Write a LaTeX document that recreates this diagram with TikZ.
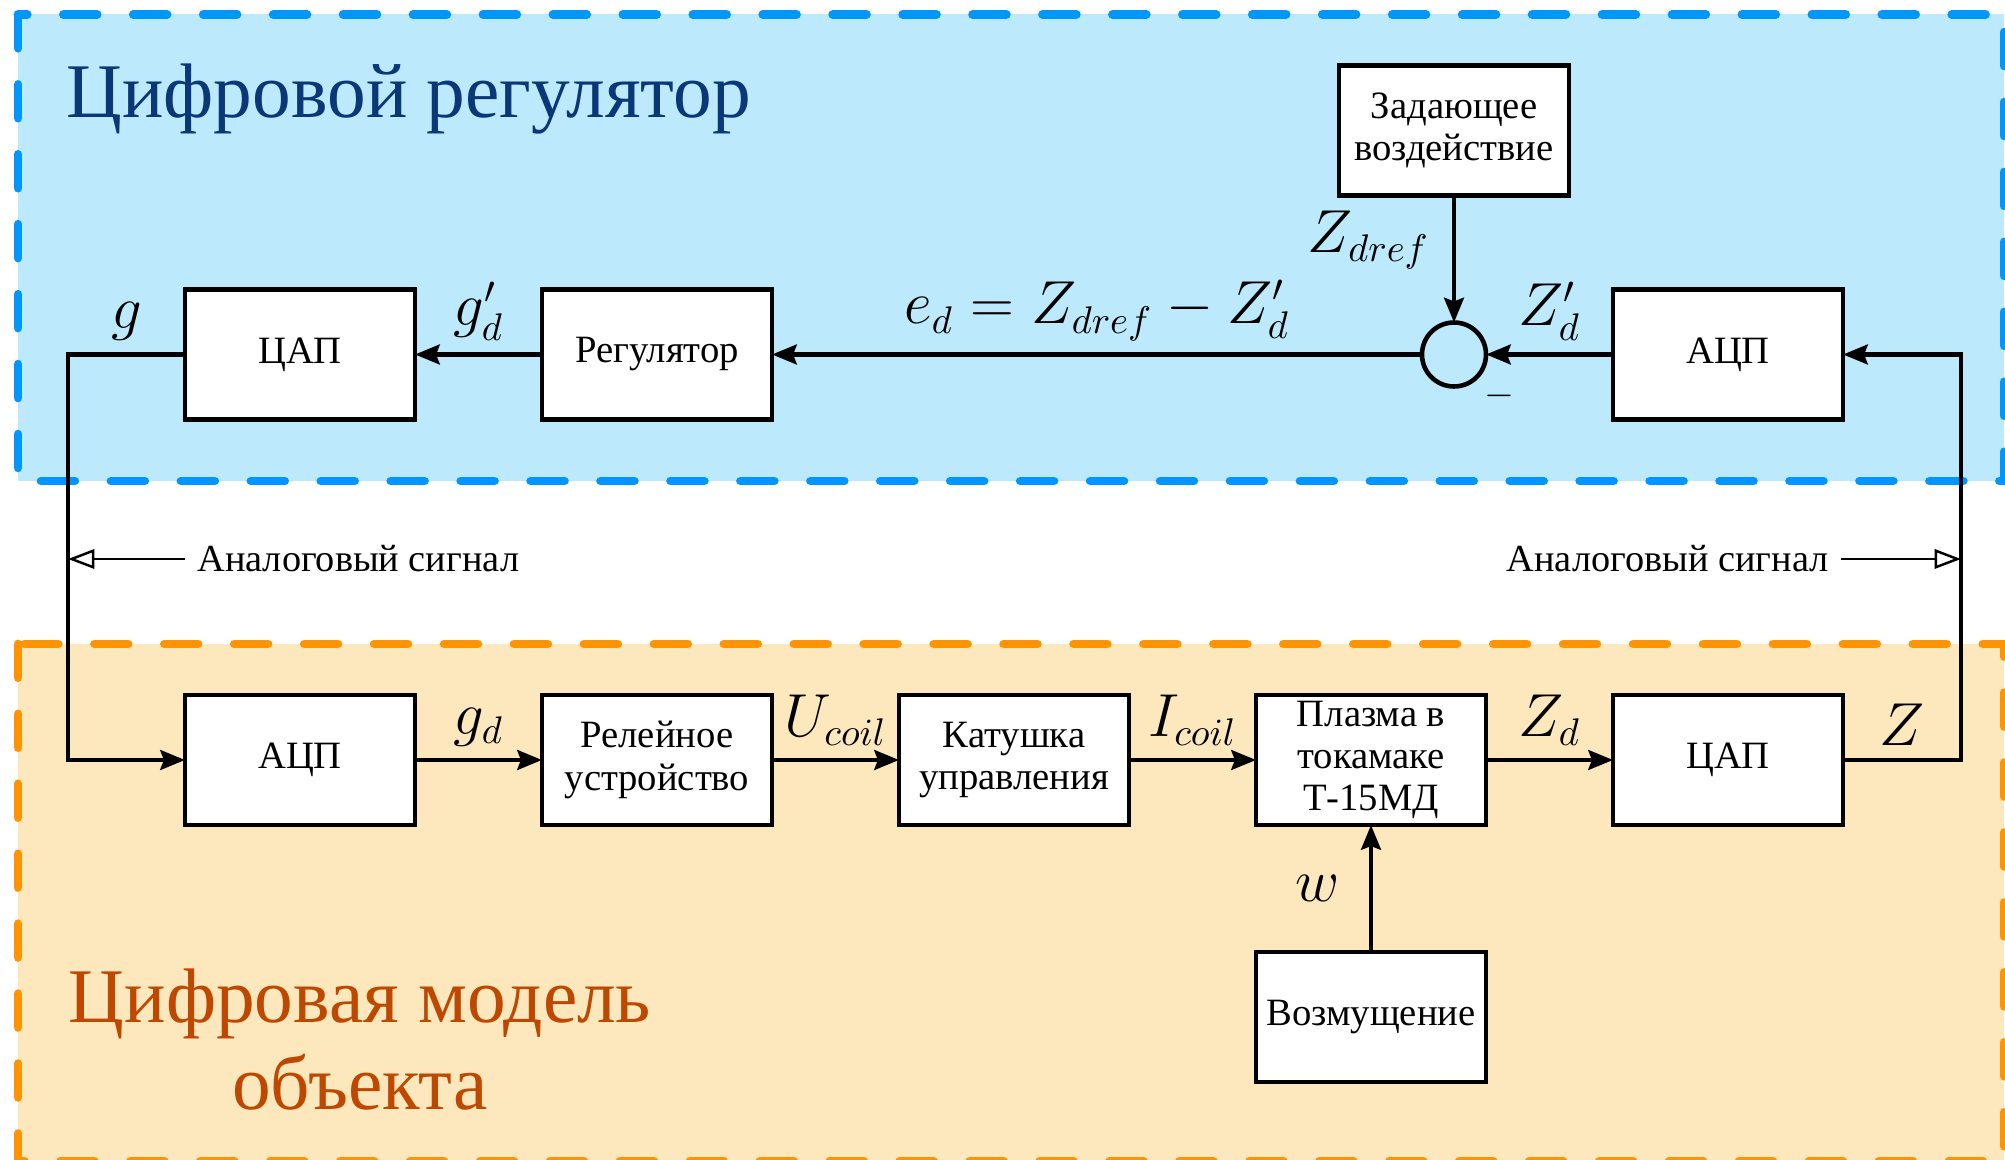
\documentclass[tikz,border=0pt]{standalone}
\usepackage{amsmath,amssymb}
\usepackage[no-math]{fontspec}
\setmainfont{Liberation Serif}
\usetikzlibrary{arrows.meta,calc,positioning}

\definecolor{ctrlFill}{RGB}{188,234,252}
\definecolor{ctrlLine}{RGB}{0,150,255}
\definecolor{ctrlText}{RGB}{10,55,120}
\definecolor{plantFill}{RGB}{253,232,190}
\definecolor{plantLine}{RGB}{255,148,0}
\definecolor{plantText}{RGB}{190,72,0}

\begin{document}
\begin{tikzpicture}[>=Stealth, node distance=1.27cm]
  % --- Styles ---
    \tikzset{
      blk/.style   = {rectangle,draw,fill=white,line width=1.3pt,minimum width=2.30cm,
                      minimum height=1.30cm,inner sep=1pt,outer sep=0pt,align=center,
                      font=\fontsize{11}{12}\selectfont},
      sum/.style   = {circle,draw,line width=1.3pt,minimum size=6.4mm,inner sep=0pt,outer sep=0pt},
      conn/.style  = {-{Stealth[length=7pt,width=5.6pt,inset=1pt]},line width=1.3pt},
      sig/.style   = {-{Triangle[open,length=7.5pt,width=5.5pt]},line width=0.7pt},
      lab/.style   = {font=\fontsize{16}{19}\selectfont},
      note/.style  = {font=\fontsize{10.9}{12}\selectfont},
      zone/.style  = {line width=2.5pt,dash pattern=on 9.6pt off 10.3pt,line cap=round},
      ttl/.style   = {inner sep=0pt,font=\fontsize{22}{25}\selectfont}
    }

    \useasboundingbox (0,0) rectangle (20.05,11.6);
    \clip (0,0) rectangle (20.05,11.6);

    % --- Two zones: digital controller (top) and plant model (bottom) ---
    \fill[ctrlFill] (0.18,11.455) rectangle (20.04,6.79);
    \draw[zone,ctrlLine] (0.18,11.455) rectangle (20.04,6.79);
    \fill[plantFill] (0.18,5.16) rectangle (20.04,-0.01);
    \draw[zone,plantLine] (0.18,5.16) rectangle (20.04,-0.01);

    \node[ttl,text=ctrlText,anchor=base west] (ttlCtrl) at (0.66,10.42) {Цифровой регулятор};
    \node[ttl,text=plantText,align=center,anchor=base] (ttlPlant) at (3.60,0.50)
      {Цифровая модель\\объекта};

    % --- Plant chain ---
    \node[blk] (adcB) at (3.00,4.00) {АЦП};
    \node[blk,right=of adcB] (relay) {Релейное\\устройство};
    \node[blk,right=of relay] (coil) {Катушка\\управления};
    \node[blk,right=of coil] (plasma) {Плазма в\\токамаке\\Т-15МД};
    \node[blk,right=of plasma] (dacB) {ЦАП};
    \node[blk,below=of plasma] (dist) {Возмущение};

    % --- Controller chain ---
    \node[blk,above=2.755cm of adcB] (dacT) {ЦАП};
    \node[blk,right=of dacT] (ctrl) {Регулятор};
    \node[blk,above=2.755cm of dacB] (adcT) {АЦП};
    \node[sum,left=of adcT] (sum) {};
    \node[blk,above=of sum] (ref) {Задающее\\воздействие};
    \node[inner sep=0pt,anchor=north west,font=\fontsize{11}{13}\selectfont] (minus)
      at ([xshift=2pt,yshift=-1.5pt]sum.south east) {$-$};

    % --- Signals inside the plant ---
    \draw[conn] (adcB) -- node[lab,above] {$g_d$} (relay);
    \draw[conn] (relay) -- node[lab,above] {$U_{coil}$} (coil);
    \draw[conn] (coil) -- node[lab,above] {$I_{coil}$} (plasma);
    \draw[conn] (plasma) -- node[lab,above] {$Z_d$} (dacB);
    \draw[conn] (dist) -- node[lab,left=5pt] {$w$} (plasma);

    % --- Signals inside the controller ---
    \draw[conn] (ref) -- node[lab,left=3pt,pos=0.35] {$Z_{dref}$} (sum);
    \draw[conn] (adcT) -- node[lab,above] {$Z'_d$} (sum);
    \draw[conn] (sum) -- node[lab,above] {$e_d = Z_{dref} - Z'_d$} (ctrl);
    \draw[conn] (ctrl) -- node[lab,above] {$g'_d$} (dacT);

    % --- Analog links between the zones ---
    \coordinate (tapL) at ($(dacT.west)+(-1.17,0)$);
    \coordinate (tapR) at ($(dacB.east)+(1.18,0)$);
    \draw[conn] (dacT.west) -- node[lab,above] {$g$} (tapL) |- (adcB.west);
    \draw[conn] (dacB.east) -- node[lab,above] {$Z$} (tapR) |- (adcT.east);

    \node[note,anchor=west] (anL) at (1.85,6.01) {Аналоговый сигнал};
    \node[note,anchor=east] (anR) at (18.41,6.01) {Аналоговый сигнал};
    \draw[sig] (anL.west) -- (anL.west -| tapL);
    \draw[sig] (anR.east) -- (anR.east -| tapR);

\end{tikzpicture}
\end{document}
